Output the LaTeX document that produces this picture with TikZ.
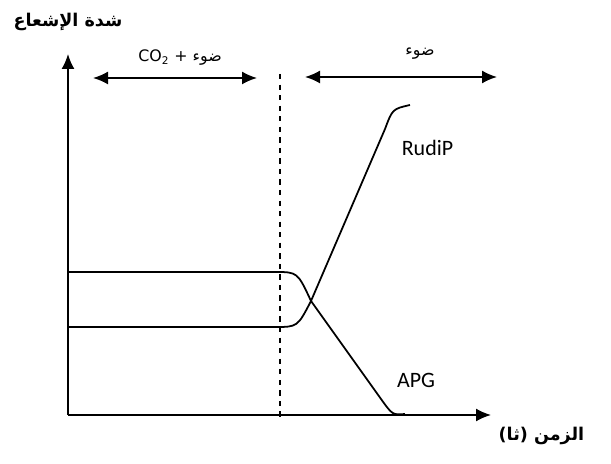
\documentclass[tikz,border=0pt]{standalone}
\usepackage{fontspec}
\setmainfont{Carlito}
\newfontfamily\arabicfont[Script=Arabic]{DejaVu Sans}
\TeXXeTstate=1
\usetikzlibrary{arrows.meta,positioning}

\begin{document}
\begin{tikzpicture}[>={Latex[length=3mm,width=2.6mm]},line width=1pt]
  \tikzset{arlabel/.style={font=\arabicfont\bfseries\fontsize{10}{12}\selectfont,inner sep=1pt},
           curvelabel/.style={font=\fontsize{12.5}{14}\selectfont,inner sep=1pt}}
  \useasboundingbox (0,0) rectangle (12.22,9.28);
  % axes
  \coordinate (O) at (1.36,0.98);
  \coordinate (ytop) at (1.36,8.2);
  \coordinate (xend) at (9.82,0.98);
  \draw[->] (O) -- (ytop);
  \draw[->] (O) -- (xend);
  \node[arlabel] (ylab) at (1.36,8.84) {\beginR شدة الإشعاع\endR};
  \node[arlabel,anchor=west] (xlab) at (9.92,0.56) {\beginR الزمن (ثا)\endR};
  % dashed separator
  \coordinate (dtop) at (5.6,7.8);
  \coordinate (dbot) at (5.6,0.9);
  \draw[dashed] (dtop) -- (dbot);
  % phases
  \coordinate (pa) at (1.86,7.72);
  \coordinate (pb) at (5.14,7.72);
  \coordinate (pc) at (6.1,7.74);
  \coordinate (pd) at (9.94,7.74);
  \draw[<->] (pa) -- (pb);
  \draw[<->] (pc) -- (pd);
  \node[arlabel,font=\arabicfont\fontsize{9}{11}\selectfont] (lab1) at (3.6,8.12) {\beginR ضوء + \beginL CO\textsubscript{2}\endL\endR};
  \node[arlabel,font=\arabicfont\fontsize{9}{11}\selectfont] (lab2) at (8.4,8.2) {\beginR ضوء\endR};
  % curves
  \coordinate (X) at (6.22,3.26);
  \draw (1.36,3.84) -- (5.5,3.84) .. controls (5.95,3.84) .. (X) -- (7.62,1.3) .. controls (7.85,0.98) .. (8.1,1.0);
  \draw (1.36,2.74) -- (5.5,2.74) .. controls (5.95,2.74) .. (X) -- (7.7,6.7) .. controls (7.85,7.1) .. (8.2,7.18);
  \node[curvelabel] (rudip) at (8.55,6.32) {RudiP};
  \node[curvelabel] (apg) at (8.32,1.68) {APG};
\end{tikzpicture}
\end{document}
